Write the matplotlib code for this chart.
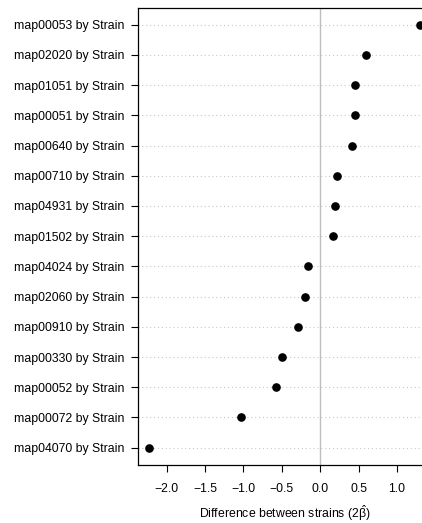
import matplotlib
matplotlib.use("Agg")
import matplotlib.pyplot as plt
import numpy as np

pathways = ["map00053", "map02020", "map01051", "map00051", "map00640",
            "map00710", "map04931", "map01502", "map04024", "map02060",
            "map00910", "map00330", "map00052", "map00072", "map04070"]
diff = [1.30, 0.60, 0.456, 0.448, 0.413, 0.217, 0.187, 0.17, -0.156, -0.20,
        -0.286, -0.495, -0.58, -1.03, -2.23]
xticks = [-2.0, -1.5, -1.0, -0.5, 0.0, 0.5, 1.0]

plt.rcParams["font.family"] = ["Liberation Sans", "DejaVu Sans"]
plt.rcParams["mathtext.fontset"] = "custom"
plt.rcParams["mathtext.rm"] = "Liberation Sans"
plt.rcParams["mathtext.it"] = "Liberation Sans:italic"

W, H = 422, 523
fig = plt.figure(figsize=(W / 100, H / 100), dpi=100)
# axes run past the right edge, as in the original
left, right, top, bottom = 138, 431, 7.8, 464.6
ax = fig.add_axes([left / W, 1 - bottom / H, (right - left) / W, (bottom - top) / H])

n = len(pathways)
y = np.arange(n, 0, -1)
lo, hi = min(diff), max(diff)
pad = 0.04 * (hi - lo)
ax.set_xlim(lo - pad, hi + pad)
ax.set_ylim(1 - 0.04 * (n - 1), n + 0.04 * (n - 1))

for yy in y:
    ax.axhline(yy, color="#c8c8c8", lw=0.8, ls=(0, (1, 2.5)), zorder=1)
ax.axvline(0, color="#bebebe", lw=1.0, zorder=1)
ax.plot(diff, y, "o", color="black", ms=5.2, zorder=3, clip_on=False)

ax.set_yticks(y)
ax.set_yticklabels([f"{p} by Strain" for p in pathways])
ax.set_xticks(xticks)
ax.set_xticklabels([f"{t:.1f}".replace("-", "\u2212") for t in xticks])
ax.tick_params(axis="both", length=5, width=0.8, labelsize=8.8, pad=5, color="black")
ax.tick_params(axis="x", pad=8)
for s in ax.spines.values():
    s.set_linewidth(0.9)
    s.set_color("black")
ax.set_xlabel(r"Difference between strains (2$\hat{\mathrm{\beta}}$)", fontsize=8.8,
              labelpad=6)

fig.savefig("out.png", dpi=100)
